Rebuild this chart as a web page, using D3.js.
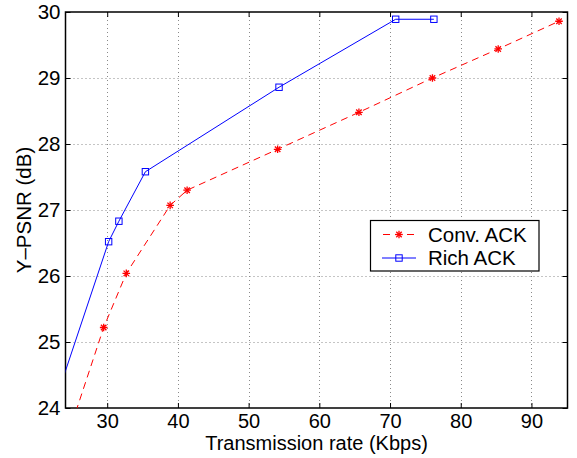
<!DOCTYPE html>
<html>
<head>
<meta charset="utf-8">
<script src="https://cdn.jsdelivr.net/npm/d3@7"></script>
<style>
  body { margin: 0; background: #fff; }
  text { font-family: "Liberation Sans", Arial, Helvetica, sans-serif; }
</style>
</head>
<body>
<svg id="chart" width="577" height="458"></svg>
<script>
// ---- data ----
const convRate = [24.5, 29.5, 32.7, 38.9, 41.3, 54.1, 65.6, 76.0, 85.3, 93.9];
const convPsnr = [23.6, 25.22, 26.04, 27.07, 27.30, 27.92, 28.48, 29.00, 29.44, 29.86];
const richRate = [22.0, 30.2, 31.65, 35.4, 54.3, 70.8, 76.2];
const richPsnr = [23.89, 26.52, 26.83, 27.58, 28.86, 29.89, 29.89];
const xTicks = [30, 40, 50, 60, 70, 80, 90];
const yTicks = [24, 25, 26, 27, 28, 29, 30];
const seriesNames = ["Conv. ACK", "Rich ACK"];

const svg = d3.select("#chart");
const L = 65.5, R = 567.5, T = 12, B = 408;
const x = d3.scaleLinear().domain([24.1, 95.1]).range([L, R]);
const y = d3.scaleLinear().domain([24, 30]).range([B, T]);
const FS = 20;
const fmt = d3.format("d");

svg.append("defs").append("clipPath").attr("id", "clip")
  .append("rect").attr("x", L).attr("y", T).attr("width", R - L).attr("height", B - T);

// grid
const grid = svg.append("g").attr("stroke", "#8a8a8a").attr("stroke-width", 1)
  .attr("stroke-dasharray", "1,3");
grid.selectAll("line.gx").data(xTicks).join("line")
  .attr("x1", d => Math.round(x(d)) + 0.5).attr("x2", d => Math.round(x(d)) + 0.5)
  .attr("y1", T).attr("y2", B);
grid.selectAll("line.gy").data(yTicks.slice(1, -1)).join("line")
  .attr("y1", d => Math.round(y(d)) + 0.5).attr("y2", d => Math.round(y(d)) + 0.5)
  .attr("x1", L).attr("x2", R);

// axes (ticks inward, mirrored)
const tickLen = 5;
const axB = svg.append("g").attr("transform", `translate(0,${B})`)
  .call(d3.axisBottom(x).tickValues(xTicks).tickFormat(fmt).tickSizeInner(-tickLen).tickSizeOuter(0).tickPadding(5.5));
const axT = svg.append("g").attr("transform", `translate(0,${T})`)
  .call(d3.axisTop(x).tickValues(xTicks).tickSizeInner(-tickLen).tickSizeOuter(0).tickFormat(""));
const axL = svg.append("g").attr("transform", `translate(${L},0)`)
  .call(d3.axisLeft(y).tickValues(yTicks).tickFormat(fmt).tickSizeInner(-tickLen).tickSizeOuter(0).tickPadding(5));
const axR = svg.append("g").attr("transform", `translate(${R},0)`)
  .call(d3.axisRight(y).tickValues(yTicks).tickSizeInner(-tickLen).tickSizeOuter(0).tickFormat(""));
[axB, axT, axL, axR].forEach(a => {
  a.select(".domain").remove();
  a.selectAll(".tick line").attr("stroke", "#000");
  a.selectAll("text").attr("font-size", 20.5).attr("fill", "#000")
    .attr("font-family", '"Liberation Sans", Arial, sans-serif');
});
axB.selectAll("text").attr("font-size", FS);
// box
svg.append("rect").attr("x", L).attr("y", T).attr("width", R - L).attr("height", B - T)
  .attr("fill", "none").attr("stroke", "#000").attr("stroke-width", 1.5);

// lines
const convData = convRate.map((r, i) => [r, convPsnr[i]]);
const richData = richRate.map((r, i) => [r, richPsnr[i]]);
const line = d3.line().x(d => x(d[0])).y(d => y(d[1]));
const plot = svg.append("g").attr("clip-path", "url(#clip)");
plot.append("path").datum(convData).attr("d", line).attr("fill", "none")
  .attr("stroke", "#ff0000").attr("stroke-width", 1).attr("stroke-dasharray", "7,5");
plot.append("path").datum(richData).attr("d", line).attr("fill", "none")
  .attr("stroke", "#0000ff").attr("stroke-width", 1);

function star(g, cx, cy, s) {
  const a = s, b = s * 0.72;
  const st = g.append("g").attr("stroke", "#ff0000").attr("stroke-width", 1.3);
  st.append("line").attr("x1", cx - a).attr("x2", cx + a).attr("y1", cy).attr("y2", cy);
  st.append("line").attr("x1", cx).attr("x2", cx).attr("y1", cy - a).attr("y2", cy + a);
  st.append("line").attr("x1", cx - b).attr("x2", cx + b).attr("y1", cy - b).attr("y2", cy + b);
  st.append("line").attr("x1", cx - b).attr("x2", cx + b).attr("y1", cy + b).attr("y2", cy - b);
}
function square(g, cx, cy, s) {
  g.append("rect").attr("x", cx - s).attr("y", cy - s).attr("width", 2 * s).attr("height", 2 * s)
    .attr("fill", "none").attr("stroke", "#0000ff").attr("stroke-width", 1);
}
convData.forEach(d => star(plot, x(d[0]), y(d[1]), 3.8));
richData.forEach(d => square(plot, x(d[0]), y(d[1]), 3.2));

// labels
svg.append("text").attr("x", (L + R) / 2).attr("y", 450).attr("text-anchor", "middle")
  .attr("font-size", FS).text("Transmission rate (Kbps)");
svg.append("text").attr("transform", `translate(31,${(T + B) / 2}) rotate(-90)`)
  .attr("text-anchor", "middle").attr("font-size", 20.5).text("Y\u2013PSNR (dB)");

// legend
const lg = svg.append("g");
lg.append("rect").attr("x", 370.5).attr("y", 220.5).attr("width", 168.5).attr("height", 50.5)
  .attr("fill", "#fff").attr("stroke", "#000").attr("stroke-width", 1.2);
const rows = [234.5, 258];
lg.append("line").attr("x1", 382).attr("x2", 416).attr("y1", rows[0]).attr("y2", rows[0])
  .attr("stroke", "#ff0000").attr("stroke-dasharray", "7,5").attr("stroke-dashoffset", -1);
star(lg, 399, rows[0], 3.8);
lg.append("line").attr("x1", 382).attr("x2", 416).attr("y1", rows[1]).attr("y2", rows[1])
  .attr("stroke", "#0000ff");
square(lg, 399, rows[1], 3.2);
seriesNames.forEach((n, i) => {
  lg.append("text").attr("x", 428).attr("y", rows[i]).attr("dy", "0.36em")
    .attr("font-size", 20.5).text(n);
});
</script>
</body>
</html>
